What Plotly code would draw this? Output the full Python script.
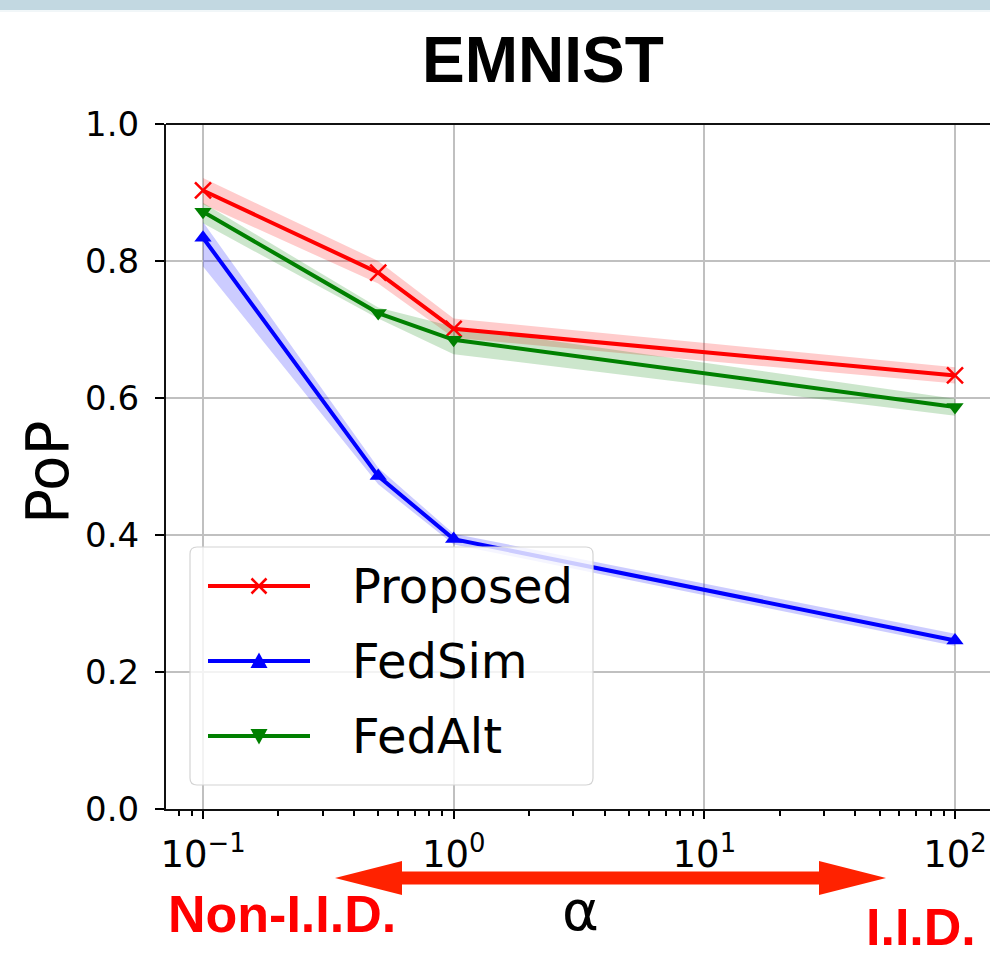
import plotly.graph_objects as go

# ---------------- data ----------------
alpha = [0.1, 0.5, 1, 100]
series_names = ["Proposed", "FedSim", "FedAlt"]

proposed_mean = [0.903, 0.783, 0.701, 0.633]
proposed_lo = [0.883, 0.767, 0.688, 0.621]
proposed_hi = [0.921, 0.800, 0.716, 0.645]

fedsim_mean = [0.834, 0.486, 0.394, 0.246]
fedsim_lo = [0.792, 0.474, 0.386, 0.238]
fedsim_hi = [0.857, 0.498, 0.402, 0.256]

fedalt_mean = [0.872, 0.724, 0.685, 0.587]
fedalt_lo = [0.855, 0.716, 0.664, 0.574]
fedalt_hi = [0.885, 0.732, 0.704, 0.599]

x_tick_vals = [0.1, 1, 10, 100]
x_tick_text = ["10<sup>−1</sup>", "10<sup>0</sup>", "10<sup>1</sup>", "10<sup>2</sup>"]
x_minor_vals = [0.08, 0.09, 0.2, 0.3, 0.4, 0.5, 0.6, 0.7, 0.8, 0.9,
                2, 3, 4, 5, 6, 7, 8, 9, 20, 30, 40, 50, 60, 70, 80, 90]
y_tick_vals = [0, 0.2, 0.4, 0.6, 0.8, 1.0]
y_tick_text = ["0.0", "0.2", "0.4", "0.6", "0.8", "1.0"]

# ---------------- layout geometry (pixels) ----------------
W, H = 990, 955
L, R, T, B = 166, 990, 124, 809


def fx(px):
    return (px - L) / (R - L)


def fy(py):
    return (B - py) / (B - T)


colors = {"Proposed": "#ff0000", "FedSim": "#0000ff", "FedAlt": "#008000"}
fills = {"Proposed": "rgba(255,0,0,0.2)", "FedSim": "rgba(0,0,255,0.2)",
         "FedAlt": "rgba(0,128,0,0.2)"}
means = {"Proposed": proposed_mean, "FedSim": fedsim_mean, "FedAlt": fedalt_mean}
los = {"Proposed": proposed_lo, "FedSim": fedsim_lo, "FedAlt": fedalt_lo}
his = {"Proposed": proposed_hi, "FedSim": fedsim_hi, "FedAlt": fedalt_hi}
symbols = {"Proposed": "x-thin", "FedSim": "triangle-up", "FedAlt": "triangle-down"}

fig = go.Figure()

for name in series_names:
    fig.add_trace(go.Scatter(x=alpha, y=his[name], mode="lines",
                             line=dict(width=0, color=fills[name]),
                             showlegend=False, hoverinfo="skip"))
    fig.add_trace(go.Scatter(x=alpha, y=los[name], mode="lines",
                             line=dict(width=0, color=fills[name]),
                             fill="tonexty", fillcolor=fills[name],
                             showlegend=False, hoverinfo="skip"))

for name in series_names:
    if symbols[name] == "x-thin":
        marker = dict(symbol="x-thin", size=16, color=colors[name],
                      line=dict(width=2.5, color=colors[name]))
    else:
        marker = dict(symbol=symbols[name], size=15, color=colors[name],
                      line=dict(width=0))
    fig.add_trace(go.Scatter(x=alpha, y=means[name], mode="lines+markers",
                             name=name, line=dict(width=4, color=colors[name]),
                             marker=marker, showlegend=False))

# ---------------- shapes ----------------
shapes = []
# top decorative band
shapes.append(dict(type="rect", xref="paper", yref="paper",
                   x0=fx(0), x1=fx(W), y0=fy(10), y1=fy(0),
                   fillcolor="#c2d8e1", line=dict(width=0), layer="above"))
shapes.append(dict(type="line", xref="paper", yref="paper",
                   x0=fx(0), x1=fx(W), y0=fy(11), y1=fy(11),
                   line=dict(width=1, color="#e3eef2"), layer="above"))
# top spine
shapes.append(dict(type="line", xref="paper", yref="paper",
                   x0=0, x1=1, y0=1, y1=1,
                   line=dict(width=2, color="#111111"), layer="above"))

# legend box with rounded corners
bx0, bx1, by0, by1 = 190, 593, 547, 785
r = 7
path = (f"M{fx(bx0 + r)},{fy(by0)} L{fx(bx1 - r)},{fy(by0)} "
        f"Q{fx(bx1)},{fy(by0)} {fx(bx1)},{fy(by0 + r)} "
        f"L{fx(bx1)},{fy(by1 - r)} Q{fx(bx1)},{fy(by1)} {fx(bx1 - r)},{fy(by1)} "
        f"L{fx(bx0 + r)},{fy(by1)} Q{fx(bx0)},{fy(by1)} {fx(bx0)},{fy(by1 - r)} "
        f"L{fx(bx0)},{fy(by0 + r)} Q{fx(bx0)},{fy(by0)} {fx(bx0 + r)},{fy(by0)} Z")
shapes.append(dict(type="path", xref="paper", yref="paper", path=path,
                   fillcolor="rgba(255,255,255,0.8)",
                   line=dict(width=1.2, color="#d4d4d4"), layer="above"))

row_y = {"Proposed": 586, "FedSim": 661, "FedAlt": 736}
lx0, lx1, mx = 208, 310, 259
for name in series_names:
    yy = row_y[name]
    shapes.append(dict(type="line", xref="paper", yref="paper",
                       x0=fx(lx0), x1=fx(lx1), y0=fy(yy), y1=fy(yy),
                       line=dict(width=4, color=colors[name]), layer="above"))
    if name == "Proposed":
        s = 7.5
        for (a, b, c, d) in [(mx - s, yy - s, mx + s, yy + s), (mx - s, yy + s, mx + s, yy - s)]:
            shapes.append(dict(type="line", xref="paper", yref="paper",
                               x0=fx(a), y0=fy(b), x1=fx(c), y1=fy(d),
                               line=dict(width=2.5, color=colors[name]), layer="above"))
    elif name == "FedSim":
        p = (f"M{fx(mx)},{fy(yy - 8.5)} L{fx(mx - 8.5)},{fy(yy + 7)} "
             f"L{fx(mx + 8.5)},{fy(yy + 7)} Z")
        shapes.append(dict(type="path", xref="paper", yref="paper", path=p,
                           fillcolor=colors[name], line=dict(width=0), layer="above"))
    else:
        p = (f"M{fx(mx)},{fy(yy + 8.5)} L{fx(mx - 8.5)},{fy(yy - 7)} "
             f"L{fx(mx + 8.5)},{fy(yy - 7)} Z")
        shapes.append(dict(type="path", xref="paper", yref="paper", path=p,
                           fillcolor=colors[name], line=dict(width=0), layer="above"))

# red double arrow under the x axis
ax0, ax1, ay = 335, 886, 878
head_len, head_half, shaft_half = 67, 17, 6.5
arrow = (f"M{fx(ax0)},{fy(ay)} "
         f"L{fx(ax0 + head_len)},{fy(ay - head_half)} "
         f"L{fx(ax0 + head_len)},{fy(ay - shaft_half)} "
         f"L{fx(ax1 - head_len)},{fy(ay - shaft_half)} "
         f"L{fx(ax1 - head_len)},{fy(ay - head_half)} "
         f"L{fx(ax1)},{fy(ay)} "
         f"L{fx(ax1 - head_len)},{fy(ay + head_half)} "
         f"L{fx(ax1 - head_len)},{fy(ay + shaft_half)} "
         f"L{fx(ax0 + head_len)},{fy(ay + shaft_half)} "
         f"L{fx(ax0 + head_len)},{fy(ay + head_half)} Z")
shapes.append(dict(type="path", xref="paper", yref="paper", path=arrow,
                   fillcolor="#ff2200", line=dict(width=0), layer="above"))

# ---------------- annotations ----------------
annotations = [
    dict(text="EMNIST", x=fx(543), y=fy(60), xref="paper", yref="paper",
         showarrow=False, xanchor="center", yanchor="middle",
         font=dict(family="Liberation Sans", size=64, color="black", weight="bold")),
    dict(text="PoP", x=fx(48), y=fy(473), xref="paper", yref="paper",
         showarrow=False, xanchor="center", yanchor="middle", textangle=-90,
         font=dict(family="DejaVu Sans", size=58, color="black")),
    dict(text="α", x=fx(580), y=fy(910), xref="paper", yref="paper",
         showarrow=False, xanchor="center", yanchor="middle",
         font=dict(family="DejaVu Sans", size=56, color="black")),
    dict(text="Non-I.I.D.", x=fx(282), y=fy(914), xref="paper", yref="paper",
         showarrow=False, xanchor="center", yanchor="middle",
         font=dict(family="Liberation Sans", size=52, color="#ff0000", weight="bold")),
    dict(text="I.I.D.", x=fx(921), y=fy(927), xref="paper", yref="paper",
         showarrow=False, xanchor="center", yanchor="middle",
         font=dict(family="Liberation Sans", size=52, color="#ff0000", weight="bold")),
]
legend_text_x = 350
for name in series_names:
    annotations.append(dict(text=name, x=fx(legend_text_x), y=fy(row_y[name]),
                            xref="paper", yref="paper", showarrow=False,
                            xanchor="left", yanchor="middle",
                            font=dict(family="DejaVu Sans", size=48, color="black")))

# ---------------- axes ----------------
log_lo = -1 - (203 - L) / 250.7
log_hi = 2 + (R - 955) / 250.7

fig.update_layout(
    template="none",
    width=W, height=H, autosize=False,
    margin=dict(l=L, r=W - R, t=T, b=H - B, pad=0),
    paper_bgcolor="white", plot_bgcolor="white",
    font=dict(family="DejaVu Sans", color="black"),
    showlegend=False,
    shapes=shapes,
    annotations=annotations,
    xaxis=dict(type="log", range=[log_lo, log_hi],
               tickmode="array", tickvals=x_tick_vals, ticktext=x_tick_text,
               ticks="outside", ticklen=8, tickwidth=2, tickcolor="black",
               tickfont=dict(family="DejaVu Sans", size=37, color="black"),
               showline=True, linewidth=2, linecolor="#111111", mirror=False,
               showgrid=True, gridcolor="#c0c0c0", gridwidth=2, zeroline=False,
               ticklabelstandoff=4,
               minor=dict(tickmode="array", tickvals=x_minor_vals, ticks="outside",
                          ticklen=5, tickwidth=1.5, tickcolor="black", showgrid=False)),
    yaxis=dict(range=[0, 1], tickmode="array", tickvals=y_tick_vals, ticktext=y_tick_text,
               ticks="outside", ticklen=9, tickwidth=2, tickcolor="black",
               tickfont=dict(family="DejaVu Sans", size=34, color="black"),
               showline=True, linewidth=2, linecolor="#111111", mirror=False,
               showgrid=True, gridcolor="#c0c0c0", gridwidth=2, zeroline=False,
               ticklabelstandoff=9),
)

fig.write_html("out.html",
               config={"displayModeBar": False},
               post_script="document.body.style.margin='0px';"
                           "document.body.style.overflow='hidden';")
